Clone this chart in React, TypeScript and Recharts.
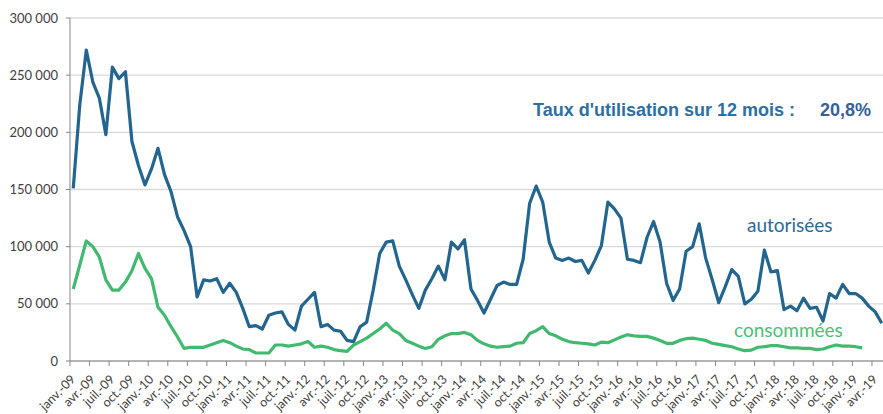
import React from 'react';
import { LineChart, Line, XAxis, YAxis, CartesianGrid } from 'recharts';

// Mois (janv.-09 .. mai-19)
const MONTHS = ['janv.', 'févr.', 'mars', 'avr.', 'mai', 'juin', 'juil.', 'août', 'sept.', 'oct.', 'nov.', 'déc.'];
const YEARS = ['09', '10', '11', '12', '13', '14', '15', '16', '17', '18', '19'];
const categories: string[] = YEARS.flatMap((y) => MONTHS.map((m) => `${m}-${y}`)).slice(0, 125);

// autorisées (en milliers)
const autorisees = [
  151, 224, 272, 244, 230, 198, 257, 247, 253, 192, 171, 154,
  168, 186, 163, 148, 126, 114, 100, 56, 71, 70, 72, 60,
  68, 60, 46, 30, 31, 28, 40, 42, 43, 32, 27, 48,
  54, 60, 30, 32, 27, 26, 18, 17, 30, 34, 62, 94,
  104, 105, 83, 71, 58, 46, 62, 72, 83, 71, 104, 98,
  106, 63, 53, 42, 54, 66, 69, 67, 67, 89, 138, 153,
  139, 104, 90, 88, 90, 87, 88, 77, 88, 101, 139, 133,
  125, 89, 88, 86, 108, 122, 104, 68, 53, 63, 96, 100,
  120, 90, 71, 51, 65, 80, 74, 50, 54, 61, 97, 78,
  79, 45, 48, 44, 55, 46, 47, 35, 59, 55, 67, 59,
  59, 55, 48, 43, 33,
];

// consommées (en milliers)
const consommees = [
  63, 84, 105, 100, 91, 71, 62, 62, 69, 79, 94, 81,
  72, 47, 40, 30, 21, 11, 12, 12, 12, 14, 16, 18,
  16, 13, 10.5, 10, 7, 7, 7, 14, 14, 13, 14, 15,
  17, 12, 13, 12, 10, 9, 8.5, 14, 17, 20, 24, 28,
  33, 27, 24, 18, 15.5, 13, 11, 12.5, 19, 22, 24, 24,
  25, 23, 18, 15, 13, 12, 12.5, 13, 15.5, 16, 24, 26.5,
  30, 24, 22, 19, 17, 16, 15.5, 15, 14, 16.5, 16, 18.5,
  21, 23, 22, 21.5, 21.5, 20, 18, 15.5, 15.5, 18, 19.5, 20,
  19, 18, 15.5, 14.5, 13.5, 12.5, 10.5, 9, 9.5, 12, 12.5, 13.5,
  13.5, 12.5, 11.5, 11.5, 11, 11, 10, 10.5, 12.5, 14, 13, 13,
  12.5, 11.5,
];

const yTicks = [0, 50000, 100000, 150000, 200000, 250000, 300000];

const data = categories.map((name, i) => ({
  name,
  autorisees: autorisees[i] !== undefined ? autorisees[i] * 1000 : undefined,
  consommees: consommees[i] !== undefined ? consommees[i] * 1000 : undefined,
}));

const CHART_W = 886;
const CHART_H = 414;
const Y_W = 70;
const M_RIGHT = 1;
const HALF = (CHART_W - Y_W - M_RIGHT) / categories.length / 2;
const AXIS = '#868686';
const LABEL = '#404040';
const FONT = 'Lato, sans-serif';

const fmt = (v: number) => (v === 0 ? '0' : `${v / 1000} 000`);

const XTick = (props: any) => {
  const { x, y, payload } = props;
  const bx = x - HALF;
  const px = x + 3;
  const py = y + 19;
  return (
    <g>
      <line x1={bx} y1={y} x2={bx} y2={y + 5} stroke={AXIS} strokeWidth={1} />
      <text
        x={px}
        y={py}
        transform={`rotate(-45 ${px} ${py})`}
        textAnchor="end"
        fontSize={12.5}
        fontFamily={FONT}
        fill={LABEL}
      >
        {payload.value}
      </text>
    </g>
  );
};

const App: React.FC = () => {
  return (
    <div style={{ position: 'absolute', left: 0, top: 0, width: 883, height: 414, overflow: 'hidden', background: '#fff' }}>
      <LineChart
        width={CHART_W}
        height={CHART_H}
        data={data}
        margin={{ top: 18, right: M_RIGHT, left: 0, bottom: 0 }}
      >
        <CartesianGrid vertical={false} stroke="#d9d9d9" strokeWidth={1.3} />
        <XAxis
          dataKey="name"
          interval={2}
          height={53}
          padding={{ left: HALF, right: HALF }}
          tickLine={false}
          tickSize={0}
          tickMargin={0}
          stroke={AXIS}
          tick={<XTick />}
        />
        <YAxis
          width={Y_W}
          domain={[0, 300000]}
          ticks={yTicks}
          tickFormatter={fmt}
          tickSize={4}
          tickMargin={8}
          stroke={AXIS}
          tick={{ fontSize: 13, fontFamily: FONT, fill: LABEL }}
        />
        <Line
          type="linear"
          dataKey="autorisees"
          stroke="#22658f"
          strokeWidth={3.2}
          strokeLinejoin="round"
          dot={false}
          isAnimationActive={false}
        />
        <Line
          type="linear"
          dataKey="consommees"
          stroke="#41b96e"
          strokeWidth={3.2}
          strokeLinejoin="round"
          dot={false}
          isAnimationActive={false}
        />
      </LineChart>
      <svg width={883} height={414} style={{ position: 'absolute', left: 0, top: 0, pointerEvents: 'none' }}>
        <text x={533} y={116} fontSize={18} fontWeight="bold" fontFamily="'Liberation Sans', Arial, sans-serif" fill="#2c6fa3">
          Taux d'utilisation sur 12 mois :
        </text>
        <text x={820} y={116} fontSize={18} fontWeight="bold" fontFamily="'Liberation Sans', Arial, sans-serif" fill="#35609a">
          20,8%
        </text>
        <text x={747} y={232} fontSize={19} fontFamily={FONT} fill="#2a6a98">
          autorisées
        </text>
        <text x={734} y={337} fontSize={19} fontFamily={FONT} fill="#4cc07a">
          consommées
        </text>
      </svg>
    </div>
  );
};

export default App;
